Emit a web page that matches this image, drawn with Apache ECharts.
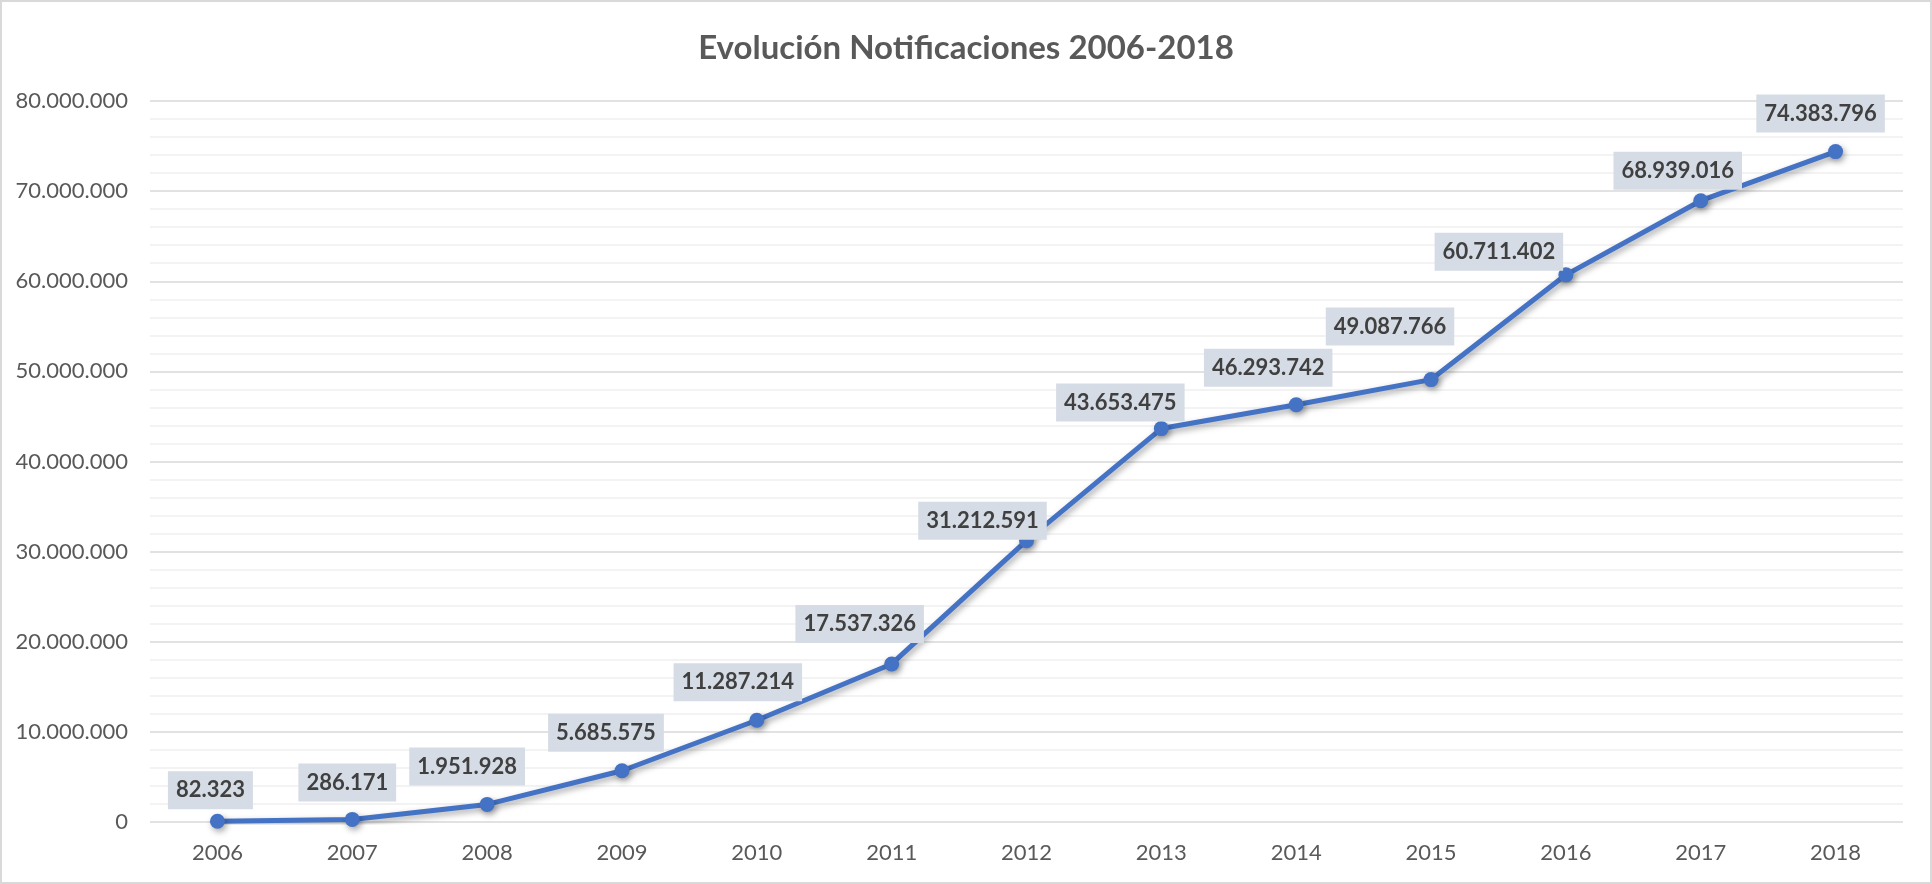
<!DOCTYPE html>
<html>
<head>
<meta charset="utf-8">
<script src="https://cdn.jsdelivr.net/npm/echarts@6/dist/echarts.min.js"></script>
<style>
html,body{margin:0;padding:0;background:#fff;}
#chart{width:1932px;height:884px;}
</style>
</head>
<body>
<div id="chart"></div>
<script>
// ---- data ----
var titleText = 'Evolución Notificaciones 2006-2018';
var years = ['2006','2007','2008','2009','2010','2011','2012','2013','2014','2015','2016','2017','2018'];
var notificaciones = [82323, 286171, 1951928, 5685575, 11287214, 17537326, 31212591, 43653475, 46293742, 49087766, 60711402, 68939016, 74383796];
var yTicks = [0, 10000000, 20000000, 30000000, 40000000, 50000000, 60000000, 70000000, 80000000];

// ---- label placement (style only, relative to each point) ----
var labelShift = [[-7,-31],[-5,-37],[-20,-38],[-16,-38],[-19,-38],[-32,-40],[-44,-20],[-41,-26],[-28,-37],[-41,-53],[-67,-23],[-23,-30],[-15,-38]];

function fmt(v){ return String(Math.round(v)).replace(/\B(?=(\d{3})+(?!\d))/g, '.'); }

var SYM = 15;
var seriesData = notificaciones.map(function(v, i){
  return {
    value: v,
    label: {
      position: [SYM/2 + labelShift[i][0], SYM/2 + labelShift[i][1]]
    }
  };
});

var chart = echarts.init(document.getElementById('chart'), null, {renderer:'canvas'});
chart.setOption({
  backgroundColor: '#ffffff',
  animation: false,
  textStyle: { fontFamily: 'Lato' },
  title: {
    text: titleText,
    left: 'center',
    top: 27,
    textStyle: { fontFamily: 'Lato', fontSize: 33, fontWeight: 'bold', color: '#595959' }
  },
  graphic: [{
    type: 'rect',
    shape: { x: 1, y: 1, width: 1930, height: 882 },
    style: { fill: 'none', stroke: '#d9d9d9', lineWidth: 2 },
    silent: true
  }],
  grid: { left: 150, right: 29, top: 101, bottom: 62 },
  xAxis: {
    type: 'category',
    data: years,
    boundaryGap: true,
    axisLine: { show: false },
    axisTick: { show: false },
    axisLabel: { color: '#595959', fontSize: 22, margin: 20, fontFamily: 'Lato' },
    splitLine: { show: false }
  },
  yAxis: {
    type: 'value',
    min: yTicks[0],
    max: yTicks[yTicks.length - 1],
    interval: yTicks[1] - yTicks[0],
    axisLine: { show: false },
    axisTick: { show: false },
    axisLabel: { color: '#595959', fontSize: 22, margin: 22, fontFamily: 'Lato', formatter: function(v){ return fmt(v); } },
    splitLine: { show: true, lineStyle: { color: '#d9d9d9', width: 1.5 } },
    minorTick: { show: false, splitNumber: 5 },
    minorSplitLine: { show: true, lineStyle: { color: '#f0f0f0', width: 1.5 } }
  },
  series: [{
    type: 'line',
    data: seriesData,
    symbol: 'circle',
    symbolSize: SYM,
    lineStyle: { color: '#4472c4', width: 5, shadowColor: 'rgba(0,0,0,0.35)', shadowBlur: 6, shadowOffsetX: 2, shadowOffsetY: 3 },
    itemStyle: { color: '#4472c4', shadowColor: 'rgba(0,0,0,0.35)', shadowBlur: 6, shadowOffsetX: 2, shadowOffsetY: 3 },
    label: {
      show: true,
      align: 'center',
      verticalAlign: 'middle',
      formatter: function(p){ return fmt(p.value); },
      fontFamily: 'Lato',
      fontSize: 22,
      fontWeight: 'bold',
      color: '#404040',
      lineHeight: 22,
      backgroundColor: '#d6dce5',
      padding: [8, 8, 8, 8]
    },
    z: 3
  }]
});
</script>
</body>
</html>
